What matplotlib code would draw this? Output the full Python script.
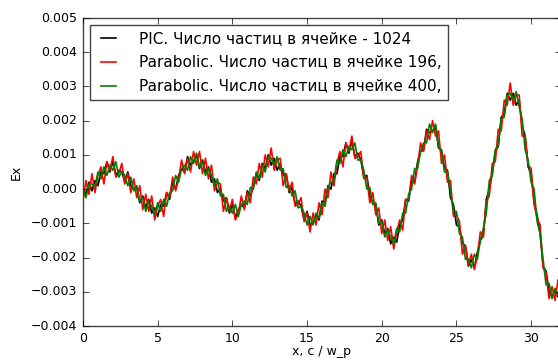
"""Ex(x): PIC против параболической модели при разном числе частиц в ячейке."""
import matplotlib; matplotlib.use("Agg")
import matplotlib.pyplot as plt
import numpy as np

plt.style.use("classic")
plt.rcParams["font.family"] = "DejaVu Sans"

# значения Ex в единицах 1e-4, шаг по x = 0.2 (0 ... 32)
x = np.linspace(0, 32, 161)
ex_pic = [0.5, -1.5, 2, -0.5, 2.5, 1, 5, 4.5, 8, 5, 8, 4, 5.5, 5, 2, 5, 1, 0, 0.5, -4,
          -2, -5.5, -3, -7, -5.5, -8, -4.5, -5, -1, -3, 2, 0, 4, 6, 5, 9.5, 7, 8, 10, 6,
          8.5, 5, 6.5, 2, 3, -1, 0, -3.5, -2.5, -7, -4.5, -8.5, -6, -4.5, -5.5, -0.5, -2, 0.5, 4.5, 2.5,
          7.5, 6, 10, 7, 9, 5.5, 7.5, 4, 4.5, -1, 0.5, -4.5, -3.5, -5, -9, -6.5, -10.5, -10, -7.5, -9,
          -3.5, -4, 1, 0, 4.5, 4.5, 9.5, 9.5, 13.5, 10.5, 14, 9.5, 10.5, 8.5, 3.5, 4, -2, -4, -4.5, -10.5,
          -9, -13, -11.5, -16, -14, -15.5, -10.5, -9, -3, -3.5, 2.5, 2, 8, 11, 11.5, 17.5, 16.5, 17, 18.5, 12,
          11.5, 6, 5.5, -2.5, -4.5, -10.5, -11, -16, -16.5, -22.5, -20.5, -23, -18.5, -15, -13.5, -3, 0, 4.5, 11, 12.5,
          21, 22, 28, 26, 28, 24.5, 26, 18.5, 15.5, 6.5, 4.5, -4, -7.5, -13, -22.5, -24, -30, -31.5, -29.5, -31.5,
          -26.5]
ex_196 = [-3.5, 2.5, -1.5, 4.5, -1, 4, 6.5, 1.5, 8, 5.5, 9.5, 3.5, 4.5, 7.5, 1.5, 4.5, -1, 3, -2.5, 1,
          -6, -1.5, -6.5, -2, -9, -5, -3, -8, -1, -2.5, 3.5, -0.5, 3, 8.5, 4.5, 9, 5, 11, 7, 11,
          4.5, 9, 3, 7, -0.5, 2, 1.5, -6.5, -2.5, -6.5, -3, -9, -7, -2, -6, -1, -4, 3.5, 1.5, 7.5,
          3.5, 10, 6.5, 12, 5.5, 8.5, 9, 1, 4.5, -0.5, 2, -5, -4.5, -2.5, -9.5, -7, -12.5, -7, -10.5, -4,
          -7.5, 0, -2.5, 5, 1, 7.5, 11, 6.5, 13.5, 11, 15.5, 9, 9.5, 11, 3, 3.5, -4, -1, -7.5, -5.5,
          -13, -9, -15, -11, -17.5, -12.5, -9, -12, -3, -3, 4, 1.5, 7, 13.5, 11, 17, 14.5, 20, 15.5, 17,
          7.5, 10, 2, 2.5, -8, -7.5, -9.5, -19, -16.5, -22, -19, -23.5, -19.5, -12.5, -14, -3.5, -2, 7.5, 8, 17.5,
          17, 26, 24.5, 31, 24.5, 27.5, 27.5, 15.5, 15.5, 7, 6, -4.5, -8.5, -10.5, -23, -24.5, -32, -28.5, -32.5, -26.5,
          -30.5]
ex_400 = [0, -2.5, 1.5, 1.5, 0.5, 5, 3, 6.5, 4, 7, 5.5, 8, 3.5, 5, 4, 1, 3.5, -0.5, 1, -3.5,
          -2.5, -6.5, -3.5, -5, -7.5, -4, -6.5, -3, -5, -1, -0.5, 4, 2, 6, 7, 5.5, 9.5, 7.5, 10.5, 6.5,
          8, 4, 6, 4, 1, 3, -2, -1.5, -6.5, -5, -7, -4.5, -8, -4.5, -3.5, -4.5, 0.5, 0, 5, 3,
          7, 5, 9.5, 9, 7, 9.5, 5.5, 6, 0.5, 1, -2, -0.5, -5.5, -5, -7, -10.5, -8, -10.5, -7, -8.5,
          -4, -5, 0.5, 2, 2.5, 8.5, 7.5, 11.5, 9.5, 12.5, 11.5, 13.5, 8.5, 8.5, 5.5, 0, 0.5, -4.5, -4, -10,
          -9.5, -14, -12, -14, -16, -11.5, -12.5, -7, -7, -1.5, 0, 6, 6, 11, 13.5, 13.5, 19, 16.5, 19, 12.5,
          11, 5, 5, -0.5, -6.5, -6.5, -13, -14, -20.5, -20.5, -23, -19, -20.5, -15, -11.5, -7, 2.5, 4, 11.5, 13,
          20.5, 21, 27.5, 28, 26, 28.5, 24, 20.5, 11.5, 8.5, 2, 0, -9.5, -13, -20.5, -28, -27.5, -32, -29, -31,
          -27]
labels = ["PIC. Число частиц в ячейке - 1024",
          "Parabolic. Число частиц в ячейке 196,",
          "Parabolic. Число частиц в ячейке 400,"]

fig = plt.figure(figsize=(5.58, 3.6), dpi=100, facecolor="white")
ax = fig.add_axes([83/558, 34/360, 478/558, 308/360])
for vals, c, lab in zip([ex_pic, ex_196, ex_400], ["k", "r", "g"], labels):
    ax.plot(x, np.array(vals) * 1e-4, color=c, lw=1.2, label=lab)

ax.set_xlim(0, 32); ax.set_ylim(-0.004, 0.005)
ax.set_xticks([0, 5, 10, 15, 20, 25, 30])
ax.set_yticks(np.arange(-0.004, 0.0051, 0.001))
ax.tick_params(labelsize=9)
for s in ax.spines.values():
    s.set_color("#444444")
ax.set_ylabel("Ex", fontsize=9, labelpad=6)
ax.set_xlabel("x, c / w_p", fontsize=9, labelpad=0)
leg = ax.legend(loc="upper left", fontsize=11, handlelength=1.6, handletextpad=1.2,
                labelspacing=0.6, borderpad=0.4, borderaxespad=0.45)
leg.get_frame().set_edgecolor("#444444")
fig.savefig("out.png", dpi=100, facecolor="white")
